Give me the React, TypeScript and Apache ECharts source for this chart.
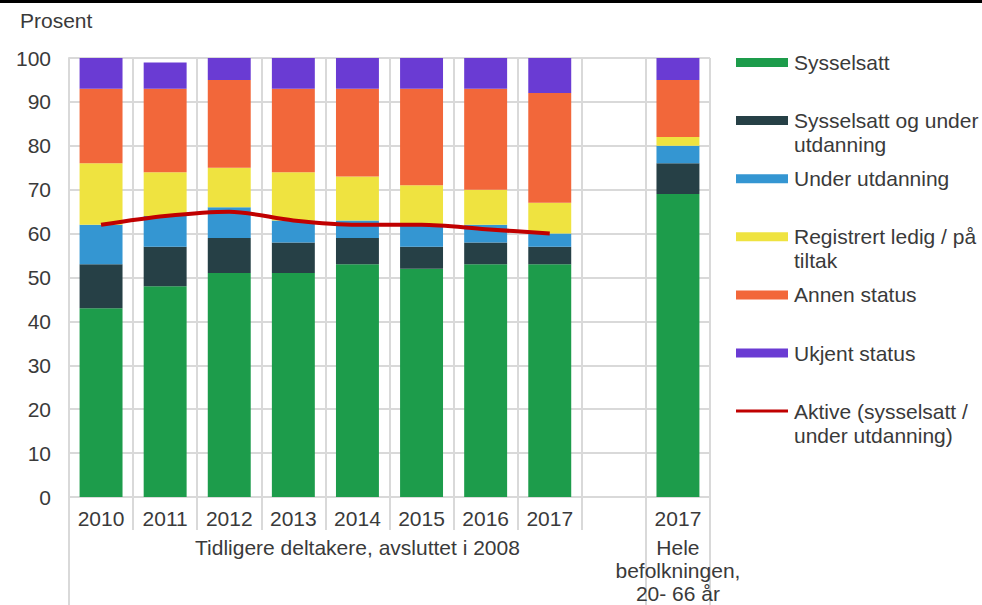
import React, { useEffect, useRef } from "react";
import * as echarts from "echarts";

const categories = ["2010", "2011", "2012", "2013", "2014", "2015", "2016", "2017", "", "2017"];
const groupLabels = ["", "", "", "", "Tidligere deltakere, avsluttet i 2008", "", "", "", "", "Hele\nbefolkningen,\n20- 66 år"];
const yTicks = [0, 10, 20, 30, 40, 50, 60, 70, 80, 90, 100];

const sysselsatt = [43, 48, 51, 51, 53, 52, 53, 53, null, 69];
const sysselsattOgUtd = [10, 9, 8, 7, 6, 5, 5, 4, null, 7];
const underUtdanning = [9, 7, 7, 5, 4, 5, 4, 3, null, 4];
const registrertLedig = [14, 10, 9, 11, 10, 9, 8, 7, null, 2];
const annenStatus = [17, 19, 20, 19, 20, 22, 23, 25, null, 13];
const ukjentStatus = [7, 6, 5, 7, 7, 7, 7, 8, null, 5];
const aktive = [62, 64, 65, 63, 62, 62, 61, 60, null, null];

const barNames = [
  "Sysselsatt",
  "Sysselsatt og under utdanning",
  "Under utdanning",
  "Registrert ledig / på tiltak",
  "Annen status",
  "Ukjent status",
];
const legendLines = [
  ["Sysselsatt"],
  ["Sysselsatt og under", "utdanning"],
  ["Under utdanning"],
  ["Registrert ledig / på", "tiltak"],
  ["Annen status"],
  ["Ukjent status"],
  ["Aktive (sysselsatt /", "under utdanning)"],
];
const lineName = "Aktive (sysselsatt / under utdanning)";
const colors = ["#1d9c4b", "#264046", "#3496d2", "#efe340", "#f2673a", "#6a3bd3"];
const lineColor = "#c00000";

const FONT = "'Liberation Sans', Arial, sans-serif";
const TEXT = "#3a3a3a";
const GRID_COLOR = "#d9d9d9";

export default function App() {
  const ref = useRef<HTMLDivElement>(null);
  useEffect(() => {
    document.body.style.margin = "0";
    const chart = echarts.init(ref.current!, undefined, { renderer: "svg" });
    const barData = [sysselsatt, sysselsattOgUtd, underUtdanning, registrertLedig, annenStatus, ukjentStatus];

    const legendGraphics: any[] = [];
    legendLines.forEach((lines, i) => {
      const cy = 62.5 + i * 58.1;
      if (i < 6) {
        legendGraphics.push({
          type: "rect",
          shape: { x: 736, y: cy - 4.5, width: 52, height: 9 },
          style: { fill: colors[i] },
        });
      } else {
        legendGraphics.push({
          type: "line",
          shape: { x1: 736, y1: cy, x2: 788, y2: cy },
          style: { stroke: lineColor, lineWidth: 3 },
        });
      }
      legendGraphics.push({
        type: "text",
        x: 794,
        y: cy - 12,
        style: {
          text: lines.join("\n"),
          fill: TEXT,
          fontSize: 21,
          fontFamily: FONT,
          lineHeight: 24,
          verticalAlign: "top",
          align: "left",
        },
      });
    });

    chart.setOption({
      animation: false,
      textStyle: { fontFamily: FONT },
      grid: { left: 69, right: 272, top: 58, bottom: 108, containLabel: false },
      graphic: [
        { type: "rect", shape: { x: 0, y: 0, width: 982, height: 3 }, style: { fill: "#000" } },
        {
          type: "text",
          x: 20,
          y: 10,
          style: { text: "Prosent", fill: TEXT, fontSize: 21, fontFamily: FONT, verticalAlign: "top" },
        },
        ...legendGraphics,
      ],
      xAxis: [
        {
          type: "category",
          data: categories,
          axisLine: { show: true, lineStyle: { color: GRID_COLOR, width: 2 } },
          axisTick: { show: true, length: 33, lineStyle: { color: GRID_COLOR, width: 2 } },
          axisLabel: { interval: 0, color: TEXT, fontSize: 21, fontFamily: FONT, margin: 11 },
          splitLine: { show: true, lineStyle: { color: GRID_COLOR, width: 2 } },
        },
        {
          type: "category",
          data: groupLabels,
          position: "bottom",
          axisLine: { show: false },
          axisTick: {
            show: true,
            length: 108,
            interval: (index: number) => index === 0 || index === 9,
            lineStyle: { color: GRID_COLOR, width: 2 },
          },
          axisLabel: {
            interval: 0,
            color: TEXT,
            fontSize: 21,
            fontFamily: FONT,
            lineHeight: 23,
            margin: 39,
          },
          splitLine: { show: false },
        },
      ],
      yAxis: {
        type: "value",
        min: yTicks[0],
        max: yTicks[yTicks.length - 1],
        interval: 10,
        axisLine: { show: true, lineStyle: { color: GRID_COLOR, width: 2 } },
        axisTick: { show: false },
        axisLabel: { color: TEXT, fontSize: 21, fontFamily: FONT, margin: 18 },
        splitLine: { show: true, lineStyle: { color: GRID_COLOR, width: 2 } },
      },
      series: [
        ...barNames.map((name, i) => ({
          name,
          type: "bar",
          stack: "total",
          xAxisIndex: 0,
          barWidth: "67%",
          data: barData[i],
          itemStyle: { color: colors[i] },
        })),
        {
          name: lineName,
          type: "line",
          xAxisIndex: 0,
          data: aktive,
          smooth: 0.3,
          symbol: "none",
          connectNulls: false,
          lineStyle: { color: lineColor, width: 4 },
          z: 5,
        },
      ],
    });
    return () => chart.dispose();
  }, []);
  return <div ref={ref} style={{ width: 982, height: 605 }} />;
}
